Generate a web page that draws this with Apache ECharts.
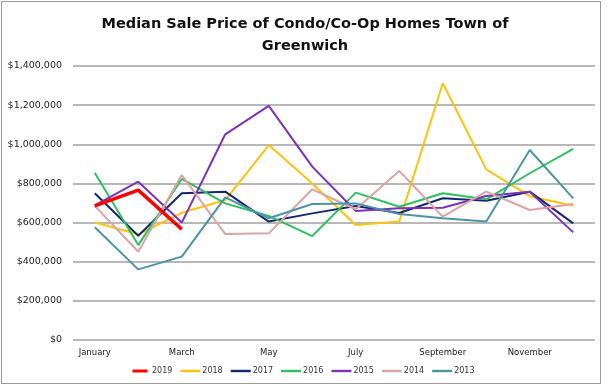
<!DOCTYPE html>
<html><head><meta charset="utf-8">
<script src="https://cdn.jsdelivr.net/npm/echarts@6/dist/echarts.min.js"></script>
<style>
html,body{margin:0;padding:0;background:#fff;}
#frame{position:absolute;left:1px;top:1px;width:600px;height:383px;border:1px solid #9a9a9a;box-sizing:border-box;}
#c{position:absolute;left:0;top:0;width:607px;height:388px;}
</style></head>
<body><div id="frame"></div><div id="c"></div>
<script>
const months = ['January','February','March','April','May','June','July','August','September','October','November','December'];
const yTicks = [0,200000,400000,600000,800000,1000000,1200000,1400000];
const s2019 = [685000,766000,566000,null,null,null,null,null,null,null,null,null];
const s2018 = [600000,540000,650000,715000,996000,800000,588000,605000,1312000,872000,735000,686000];
const s2017 = [750000,533000,750000,758000,605000,647000,685000,649000,724000,712000,758000,596000];
const s2016 = [855000,485000,823000,698000,634000,531000,753000,681000,750000,719000,852000,976000];
const s2015 = [688000,809000,600000,1051000,1196000,886000,659000,673000,676000,736000,758000,550000];
const s2014 = [685000,451000,843000,541000,545000,770000,668000,864000,630000,758000,664000,695000];
const s2013 = [576000,361000,426000,729000,622000,695000,698000,644000,622000,605000,971000,724000];

const seriesDefs = [
  {name:'2019', data:s2019, color:'#ff0000', w:3.5},
  {name:'2018', data:s2018, color:'#ffc20e', w:2},
  {name:'2017', data:s2017, color:'#14286e', w:2},
  {name:'2016', data:s2016, color:'#2fbf5c', w:2},
  {name:'2015', data:s2015, color:'#7a33b8', w:2},
  {name:'2014', data:s2014, color:'#dba3a3', w:2},
  {name:'2013', data:s2013, color:'#4a94a8', w:2}
];
const fmt = v => '$' + v.toLocaleString('en-US');
const chart = echarts.init(document.getElementById('c'), null, {renderer:'canvas'});
chart.setOption({
  animation:false,
  title:{text:'Median Sale Price of Condo/Co-Op Homes Town of\nGreenwich', left:300, textAlign:'center', top:8,
    textStyle:{fontFamily:'DejaVu Sans', fontWeight:'bold', fontSize:14.5, color:'#111', lineHeight:22}},
  grid:{left:73, right:12, top:66, bottom:48},
  legend:{bottom:8, left:'center', itemWidth:20, itemHeight:3, itemGap:8,
    textStyle:{fontFamily:'DejaVu Sans', fontSize:8, color:'#333', padding:[0,0,0,-3]},
    data:seriesDefs.map(s=>({name:s.name, icon:s.name==='2019'?'path://M0,0H20V4H0Z':'path://M0,0H20V2.4H0Z', itemStyle:{color:s.color}}))},
  xAxis:{type:'category', data:months, boundaryGap:true,
    axisLine:{show:false}, axisTick:{show:false},
    axisLabel:{interval:1, fontFamily:'DejaVu Sans', fontSize:8.5, color:'#222', margin:8}},
  yAxis:{type:'value', min:0, max:1400000, interval:200000,
    axisLine:{show:false}, axisTick:{show:false},
    splitLine:{lineStyle:{color:'#a0a0a0', width:1.5}},
    axisLabel:{formatter:v=>fmt(v), fontFamily:'DejaVu Sans', fontSize:9.5, color:'#222', margin:11}},
  series:seriesDefs.map(s=>({name:s.name, type:'line', data:s.data, symbol:'none', connectNulls:false,
    lineStyle:{color:s.color, width:s.w}, itemStyle:{color:s.color}, z: s.name==='2019'?10:2}))
});
</script></body></html>
